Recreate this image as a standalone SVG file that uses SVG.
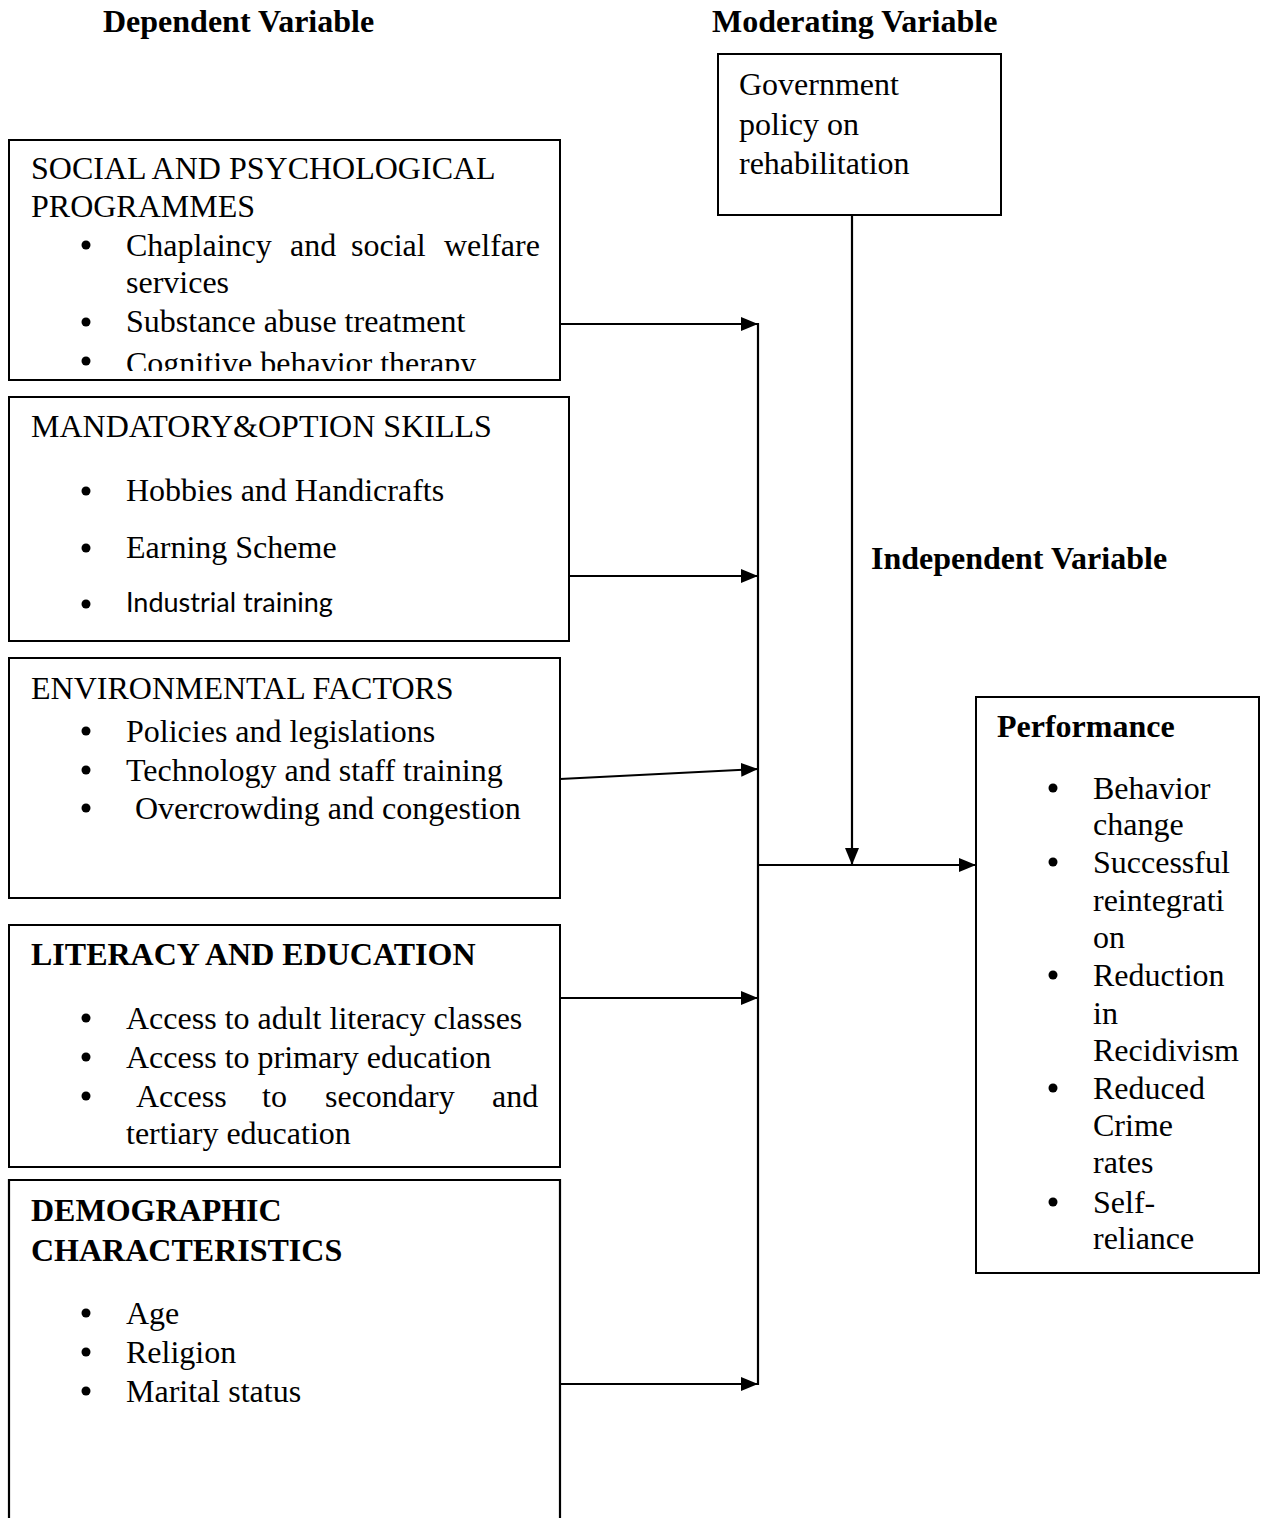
<svg xmlns="http://www.w3.org/2000/svg" width="1264" height="1518" viewBox="0 0 1264 1518">
<style>
.t{font-family:"Liberation Serif","Times New Roman",serif;font-size:32px;fill:#000}
.b{font-weight:bold}
.s{font-family:"Lato","Liberation Sans",sans-serif;font-size:27px;fill:#000}
.box{fill:#fff;stroke:#000;stroke-width:2}
.ln{fill:none;stroke:#000;stroke-width:2.2}
.dot{fill:#000}
</style>
<defs>
<marker id="ah" markerUnits="userSpaceOnUse" markerWidth="18" markerHeight="14" refX="17" refY="7" orient="auto">
<path d="M0,0 L17,7 L0,14 z" fill="#000"/>
</marker>
<clipPath id="c1"><rect x="9" y="140" width="551" height="231"/></clipPath>
</defs>
<rect width="1264" height="1518" fill="#fff"/>

<g id="headers">
<text class="t b" x="103" y="32">Dependent Variable</text>
<text class="t b" x="712" y="32">Moderating Variable</text>
<text class="t b" x="871" y="569">Independent Variable</text>
</g>

<g id="connectors">
<line class="ln" x1="758" y1="323" x2="758" y2="1385"/>
<line class="ln" x1="560" y1="324" x2="758" y2="324" marker-end="url(#ah)"/>
<line class="ln" x1="569" y1="576" x2="758" y2="576" marker-end="url(#ah)"/>
<line class="ln" x1="560" y1="779" x2="758" y2="769" marker-end="url(#ah)"/>
<line class="ln" x1="560" y1="998" x2="758" y2="998" marker-end="url(#ah)"/>
<line class="ln" x1="560" y1="1384" x2="758" y2="1384" marker-end="url(#ah)"/>
<line class="ln" x1="852" y1="215" x2="852" y2="865" marker-end="url(#ah)"/>
<line class="ln" x1="758" y1="865" x2="976" y2="865" marker-end="url(#ah)"/>
</g>

<g id="social">
<rect class="box" x="9" y="140" width="551" height="240"/>
<g clip-path="url(#c1)">
<text class="t" x="31" y="179">SOCIAL AND PSYCHOLOGICAL</text>
<text class="t" x="31" y="217">PROGRAMMES</text>
<circle class="dot" cx="86" cy="245" r="4.5"/>
<text class="t" y="256"><tspan x="126">Chaplaincy</tspan><tspan x="290">and</tspan><tspan x="351">social</tspan><tspan x="444">welfare</tspan></text>
<text class="t" x="126" y="293">services</text>
<circle class="dot" cx="86" cy="322" r="4.5"/>
<text class="t" x="126" y="332">Substance abuse treatment</text>
<circle class="dot" cx="86" cy="361" r="4.5"/>
<text class="t" x="126" y="374">Cognitive behavior therapy</text>
</g>
</g>

<g id="skills">
<rect class="box" x="9" y="397" width="560" height="244"/>
<text class="t" x="31" y="437">MANDATORY&amp;OPTION SKILLS</text>
<circle class="dot" cx="86" cy="491" r="4.5"/>
<text class="t" x="126" y="501">Hobbies and Handicrafts</text>
<circle class="dot" cx="86" cy="548" r="4.5"/>
<text class="t" x="126" y="558">Earning Scheme</text>
<circle class="dot" cx="86" cy="604" r="4.5"/>
<text class="s" x="126" y="612">Industrial training</text>
</g>

<g id="environment">
<rect class="box" x="9" y="658" width="551" height="240"/>
<text class="t" x="31" y="699">ENVIRONMENTAL FACTORS</text>
<circle class="dot" cx="86" cy="731" r="4.5"/>
<text class="t" x="126" y="742">Policies and legislations</text>
<circle class="dot" cx="86" cy="770" r="4.5"/>
<text class="t" x="126" y="781">Technology and staff training</text>
<circle class="dot" cx="86" cy="808" r="4.5"/>
<text class="t" x="135" y="819">Overcrowding and congestion</text>
</g>

<g id="literacy">
<rect class="box" x="9" y="925" width="551" height="242"/>
<text class="t b" x="31" y="965">LITERACY AND EDUCATION</text>
<circle class="dot" cx="86" cy="1018" r="4.5"/>
<text class="t" x="126" y="1029">Access to adult literacy classes</text>
<circle class="dot" cx="86" cy="1057" r="4.5"/>
<text class="t" x="126" y="1068">Access to primary education</text>
<circle class="dot" cx="86" cy="1096" r="4.5"/>
<text class="t" y="1107"><tspan x="136">Access</tspan><tspan x="262">to</tspan><tspan x="325">secondary</tspan><tspan x="492">and</tspan></text>
<text class="t" x="126" y="1144">tertiary education</text>
</g>

<g id="demographic">
<path class="ln" d="M9,1530 V1180 H560 V1530"/>
<text class="t b" x="31" y="1221">DEMOGRAPHIC</text>
<text class="t b" x="31" y="1261">CHARACTERISTICS</text>
<circle class="dot" cx="86" cy="1313" r="4.5"/>
<text class="t" x="126" y="1324">Age</text>
<circle class="dot" cx="86" cy="1352" r="4.5"/>
<text class="t" x="126" y="1363">Religion</text>
<circle class="dot" cx="86" cy="1391" r="4.5"/>
<text class="t" x="126" y="1402">Marital status</text>
</g>

<g id="government">
<rect class="box" x="718" y="54" width="283" height="161"/>
<text class="t" x="739" y="95">Government</text>
<text class="t" x="739" y="135">policy on</text>
<text class="t" x="739" y="174">rehabilitation</text>
</g>

<g id="performance">
<rect class="box" x="976" y="697" width="283" height="576"/>
<text class="t b" x="997" y="737">Performance</text>
<circle class="dot" cx="1053" cy="788" r="4.5"/>
<text class="t" x="1093" y="799">Behavior</text>
<text class="t" x="1093" y="835">change</text>
<circle class="dot" cx="1053" cy="862" r="4.5"/>
<text class="t" x="1093" y="873">Successful</text>
<text class="t" x="1093" y="911">reintegrati</text>
<text class="t" x="1093" y="948">on</text>
<circle class="dot" cx="1053" cy="975" r="4.5"/>
<text class="t" x="1093" y="986">Reduction</text>
<text class="t" x="1093" y="1024">in</text>
<text class="t" x="1093" y="1061">Recidivism</text>
<circle class="dot" cx="1053" cy="1088" r="4.5"/>
<text class="t" x="1093" y="1099">Reduced</text>
<text class="t" x="1093" y="1136">Crime</text>
<text class="t" x="1093" y="1173">rates</text>
<circle class="dot" cx="1053" cy="1202" r="4.5"/>
<text class="t" x="1093" y="1213">Self-</text>
<text class="t" x="1093" y="1249">reliance</text>
</g>
</svg>
